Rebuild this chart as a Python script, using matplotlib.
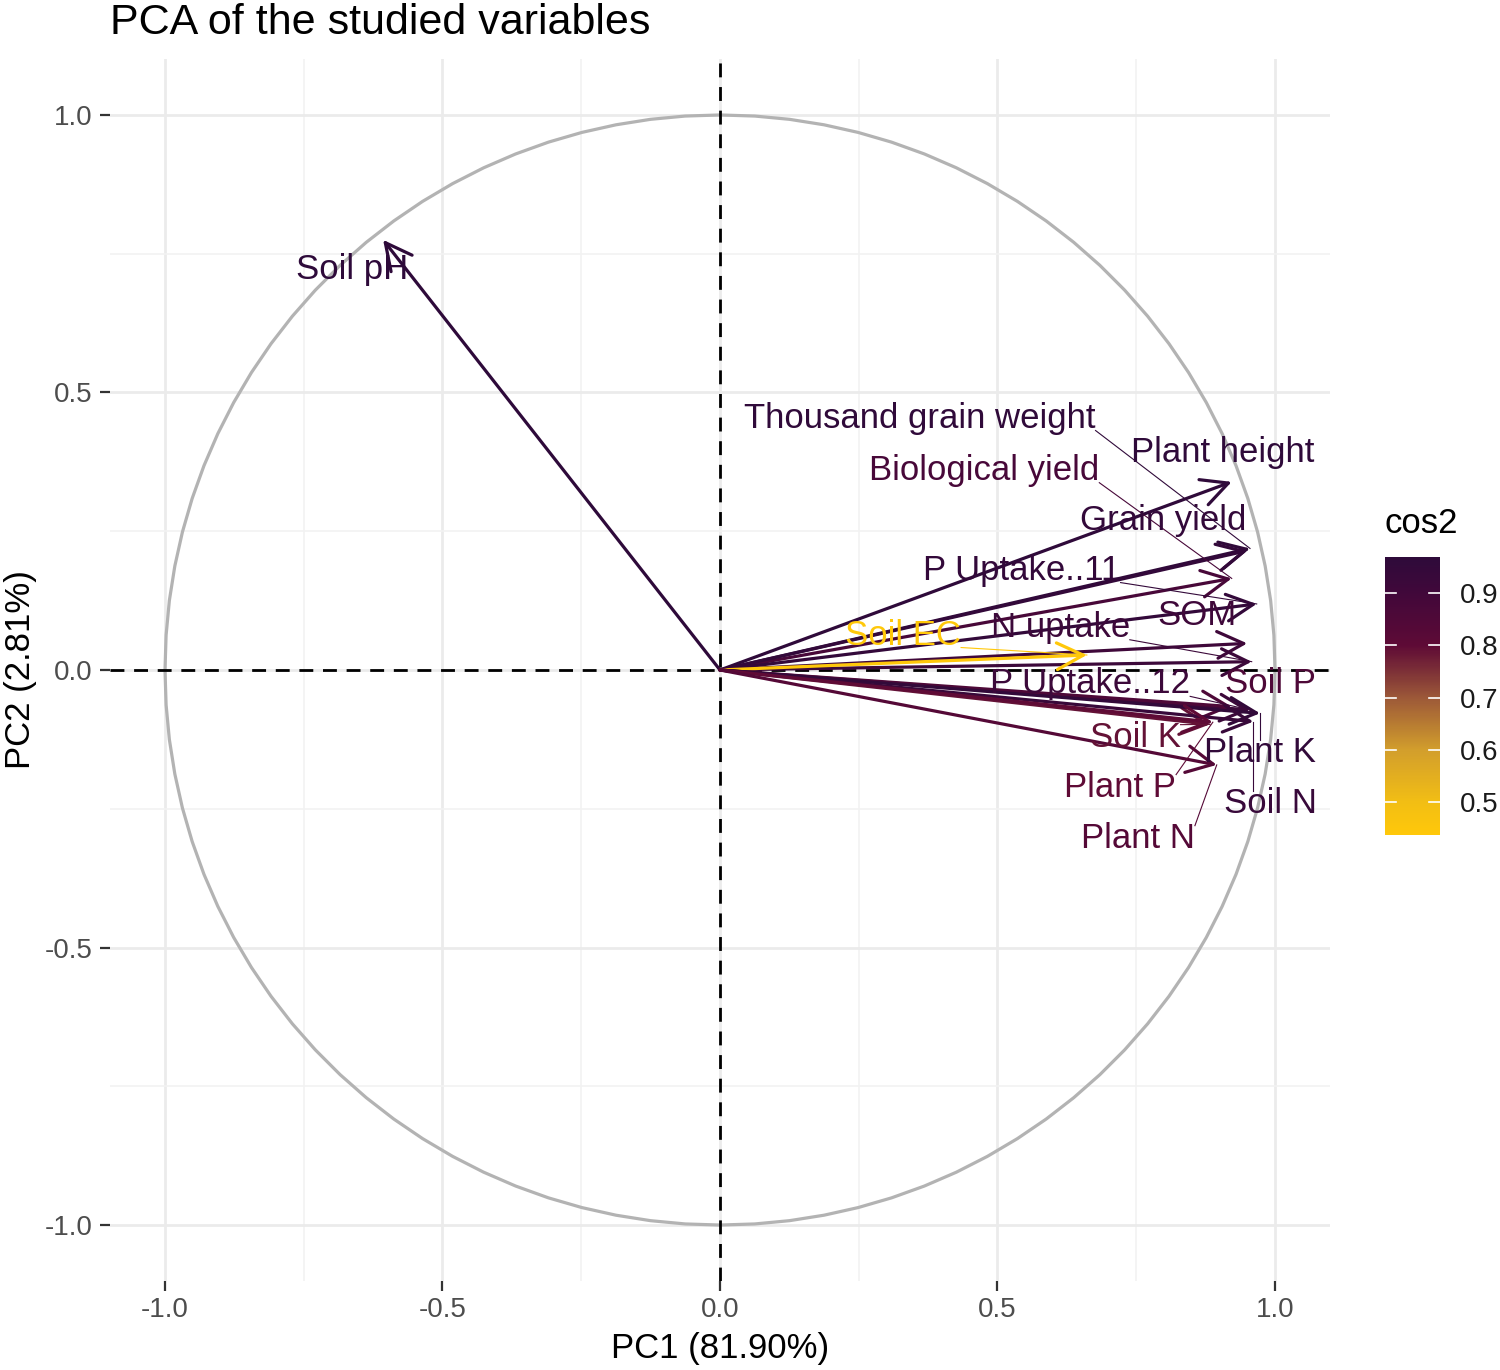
import matplotlib
matplotlib.use("Agg")
import matplotlib.pyplot as plt
import numpy as np
from matplotlib.colors import LinearSegmentedColormap, Normalize
from matplotlib.cm import ScalarMappable

plt.rcParams['font.family'] = ['Liberation Sans', 'DejaVu Sans']

# variable coordinates on PC1 / PC2
variables = ["Soil pH", "Thousand grain weight", "Plant height", "Biological yield",
             "Grain yield", "P Uptake..11", "SOM", "N uptake", "Soil EC",
             "P Uptake..12", "Soil P", "Soil K", "Plant K", "Soil N", "Plant P", "Plant N"]
pc1 = [-0.607, 0.955, 0.922, 0.922, 0.950, 0.967, 0.950, 0.958, 0.661,
       0.955, 0.922, 0.883, 0.973, 0.961, 0.888, 0.895]
pc2 = [0.775, 0.219, 0.339, 0.165, 0.215, 0.119, 0.048, 0.015, 0.027,
       -0.072, -0.066, -0.098, -0.078, -0.093, -0.094, -0.171]
pc1_pct = 81.90
pc2_pct = 2.81

# where the repelled labels ended up
lab_x = [-0.663, 0.360, 0.905, 0.476, 0.798, 0.544, 0.859, 0.613, 0.330,
         0.667, 0.991, 0.748, 0.973, 0.991, 0.721, 0.753]
lab_y = [0.721, 0.454, 0.391, 0.360, 0.270, 0.180, 0.099, 0.077, 0.063,
         -0.025, -0.025, -0.121, -0.148, -0.240, -0.211, -0.303]

pc1 = np.array(pc1)
pc2 = np.array(pc2)
cos2 = pc1**2 + pc2**2

# colour scale: yellow -> dark red -> dark purple
vmin, vmax = cos2.min(), cos2.max()
stops = [(0.44, "#FFC80A"), (0.5, "#F2BE14"), (0.6, "#D29E2C"), (0.7, "#9C5838"),
         (0.8, "#5E0A36"), (0.9, "#41083A"), (0.975, "#2E0A3A")]
pos = [min(max((v - vmin) / (vmax - vmin), 0), 1) for v, c in stops]
pos[0], pos[-1] = 0.0, 1.0
cmap = LinearSegmentedColormap.from_list("cos2", list(zip(pos, [c for v, c in stops])))
norm = Normalize(vmin, vmax)

fig = plt.figure(figsize=(15, 13.7), dpi=100)
ax = fig.add_axes([0.073, 0.0653, 0.814, 0.8913])
ax.set_xlim(-1.1, 1.1)
ax.set_ylim(-1.1, 1.1)

for s in ax.spines.values():
    s.set_visible(False)
ax.set_xticks([-1, -0.5, 0, 0.5, 1])
ax.set_yticks([-1, -0.5, 0, 0.5, 1])
ax.set_xticks([-0.75, -0.25, 0.25, 0.75], minor=True)
ax.set_yticks([-0.75, -0.25, 0.25, 0.75], minor=True)
ax.set_xticklabels(["-1.0", "-0.5", "0.0", "0.5", "1.0"])
ax.set_yticklabels(["-1.0", "-0.5", "0.0", "0.5", "1.0"])
ax.grid(which="major", color="#EBEBEB", lw=2.0, zorder=0)
ax.grid(which="minor", color="#F2F2F2", lw=1.2, zorder=0)
ax.tick_params(which="major", length=7, width=1.6, color="#333333",
               labelsize=20, labelcolor="#4D4D4D", pad=5)
ax.tick_params(which="minor", length=0)
ax.set_axisbelow(True)

# correlation circle
th = np.linspace(0, 2 * np.pi, 101)
ax.plot(np.cos(th), np.sin(th), color="#B3B3B3", lw=2.3, zorder=1)
ax.axhline(0, color="black", ls=(0, (5, 3.5)), lw=2.0, zorder=2)
ax.axvline(0, color="black", ls=(0, (5, 3.5)), lw=2.0, zorder=2)

colors = cmap(norm(cos2))
for i in range(len(variables)):
    ax.annotate("", xy=(pc1[i], pc2[i]), xytext=(0, 0),
                arrowprops=dict(arrowstyle="->,head_length=0.95,head_width=0.48",
                                color=colors[i], lw=2.3, shrinkA=0, shrinkB=0,
                                mutation_scale=20),
                zorder=3)

texts = []
for i, name in enumerate(variables):
    t = ax.text(lab_x[i], lab_y[i], name, color=colors[i], fontsize=25,
                ha="center", va="center", zorder=4)
    texts.append(t)

# repel-style segments from label box to arrow tip
fig.canvas.draw()
r = fig.canvas.get_renderer()
inv = ax.transData.inverted()
for i, t in enumerate(texts):
    bb = t.get_window_extent(r)
    tx, ty = ax.transData.transform((pc1[i], pc2[i]))
    cx = min(max(tx, bb.x0), bb.x1)
    cy = min(max(ty, bb.y0 + 4), bb.y1 - 4)
    if np.hypot(tx - cx, ty - cy) > 22:
        p0 = inv.transform((cx, cy))
        ax.plot([p0[0], pc1[i]], [p0[1], pc2[i]], color=colors[i], lw=0.8, zorder=3)

ax.set_xlabel(f"PC1 ({pc1_pct:.2f}%)", fontsize=25, labelpad=6)
ax.set_ylabel(f"PC2 ({pc2_pct:.2f}%)", fontsize=25, labelpad=6)

fig.text(0.0733, 0.998, "PCA of the studied variables", fontsize=31, ha="left", va="top")

# colour bar legend
cax = fig.add_axes([0.9233, 0.3905, 0.0367, 0.203])
cb = fig.colorbar(ScalarMappable(norm=norm, cmap=cmap), cax=cax)
cb.outline.set_visible(False)
cb.set_ticks([0.5, 0.6, 0.7, 0.8, 0.9])
cb.ax.tick_params(length=0, labelsize=20, labelcolor="#1A1A1A", pad=14)
for v in [0.5, 0.6, 0.7, 0.8, 0.9]:
    cax.plot([0, 0.2], [v, v], color="white", lw=1.2, transform=cax.get_yaxis_transform())
    cax.plot([0.8, 1.0], [v, v], color="white", lw=1.2, transform=cax.get_yaxis_transform())
fig.text(0.9233, 0.606, "cos2", fontsize=25, ha="left", va="bottom")

fig.savefig("out.png", dpi=100)
